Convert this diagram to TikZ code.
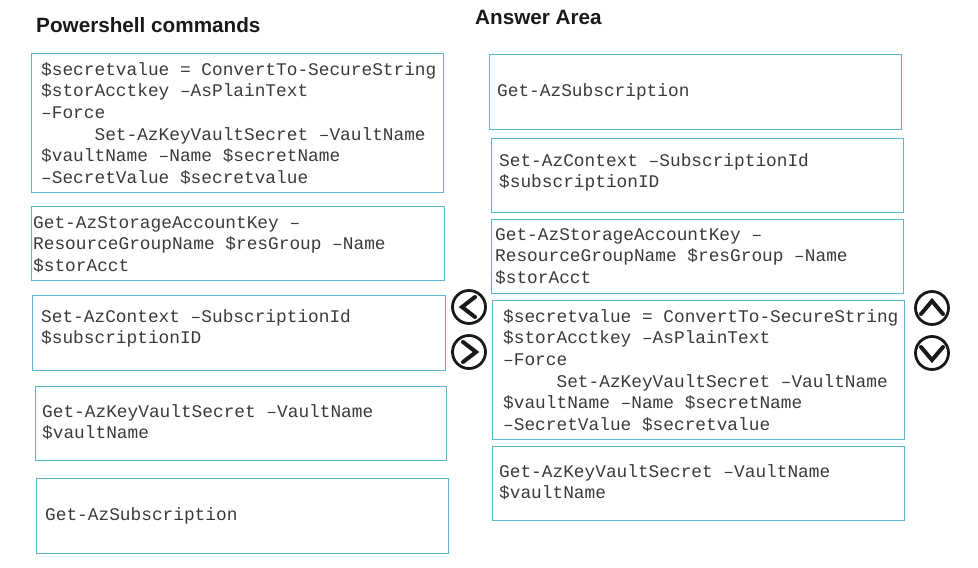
\documentclass[tikz,border=0pt]{standalone}
\usepackage{fontspec}
\setmainfont{Liberation Sans}
\newfontfamily\cmdfont{Liberation Mono}
\tikzset{
  x=1pt,y=-1pt,
  cmdbox/.style={draw=boxblue,line width=1.4pt,rectangle,inner sep=0pt,anchor=north west},
  cmdtext/.style={anchor=north west,inner sep=0pt,text width=410pt,align=flush left,font=\cmdfont\fontsize{17.8}{21.6}\selectfont,text=cmdgray},
  headline/.style={anchor=base west,inner sep=0pt,font=\bfseries\fontsize{20.7}{24}\selectfont,text=black!90},
  roundbtn/.style={circle,draw=black!90,line width=2.8pt,minimum size=33pt,inner sep=0pt},
  chev/.style={draw=black!90,line width=4pt,line cap=round,line join=miter}
}
\definecolor{boxblue}{HTML}{5BB8D0}
\definecolor{cmdgray}{HTML}{3A3A3A}
\newcommand{\fl}{\rule{0pt}{14pt}}
\newcommand{\cmdA}{\fl\$secretvalue = ConvertTo-SecureString\\\$storAcctkey –AsPlainText\\–Force\\\hspace*{53.4pt}Set-AzKeyVaultSecret –VaultName\\\$vaultName –Name \$secretName\\–SecretValue \$secretvalue}
% box: name, x, y, w, h
\newcommand{\cbox}[5]{\node[cmdbox,minimum width=#4pt,minimum height=#5pt] (#1) at (#2,#3) {};}
\begin{document}
\begin{tikzpicture}
\useasboundingbox (0,0) rectangle (978,568);
\node[headline] (t1) at (36,32) {Powershell commands};
\node[headline] (t2) at (475,24) {Answer Area};
% left column
\cbox{l1}{31}{53}{412}{139}
\cbox{l2}{31}{206}{413}{74}
\cbox{l3}{32}{295}{413}{75}
\cbox{l4}{35}{386}{411}{74}
\cbox{l5}{36}{478}{412}{75}
\node[cmdtext] (tl1) at (41,61) {\cmdA};
\node[cmdtext] (tl2) at (33,214) {\fl Get-AzStorageAccountKey –\\ResourceGroupName \$resGroup –Name\\\$storAcct};
\node[cmdtext] (tl3) at (41,308) {\fl Set-AzContext –SubscriptionId\\\$subscriptionID};
\node[cmdtext] (tl4) at (42,403) {\fl Get-AzKeyVaultSecret –VaultName\\\$vaultName};
\node[cmdtext] (tl5) at (45,506) {\fl Get-AzSubscription};
% right column
\cbox{r1}{489}{54}{412}{75}
\cbox{r2}{491}{138}{412}{74}
\cbox{r3}{491}{219}{412}{74}
\cbox{r4}{492}{300}{412}{139}
\cbox{r5}{492}{446}{412}{74}
\node[cmdtext] (tr1) at (497,82) {\fl Get-AzSubscription};
\node[cmdtext] (tr2) at (499,152) {\fl Set-AzContext –SubscriptionId\\\$subscriptionID};
\node[cmdtext] (tr3) at (495,226) {\fl Get-AzStorageAccountKey –\\ResourceGroupName \$resGroup –Name\\\$storAcct};
\node[cmdtext] (tr4) at (503,308) {\cmdA};
\node[cmdtext] (tr5) at (499,463) {\fl Get-AzKeyVaultSecret –VaultName\\\$vaultName};
% buttons
\node[roundbtn] (bl) at (469,307) {};
\node[roundbtn] (br) at (469,352) {};
\node[roundbtn] (bu) at (932,308) {};
\node[roundbtn] (bd) at (932,353) {};
\draw[chev] ([shift={(6,-10)}]bl.center) -- ([shift={(-7,0)}]bl.center) -- ([shift={(6,10)}]bl.center);
\draw[chev] ([shift={(-6,-10)}]br.center) -- ([shift={(7,0)}]br.center) -- ([shift={(-6,10)}]br.center);
\draw[chev] ([shift={(-11,6)}]bu.center) -- ([shift={(0,-7)}]bu.center) -- ([shift={(11,6)}]bu.center);
\draw[chev] ([shift={(-11,-6)}]bd.center) -- ([shift={(0,7)}]bd.center) -- ([shift={(11,-6)}]bd.center);
\end{tikzpicture}
\end{document}
